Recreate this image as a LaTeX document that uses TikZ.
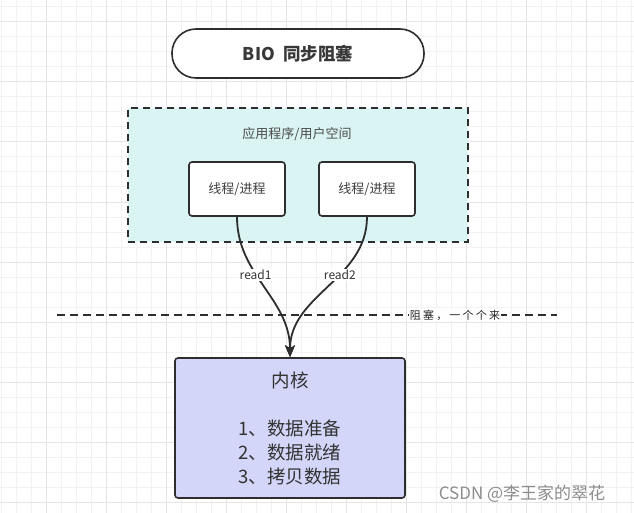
\documentclass[tikz,border=0pt]{standalone}
\usepackage{fontspec}
\setmainfont{Noto Sans CJK SC}
\usetikzlibrary{arrows.meta,positioning}
\colorlet{background}{white}
\colorlet{penColor}{black!82}
\definecolor{userFill}{RGB}{218,243,243}
\definecolor{kernelFill}{RGB}{211,214,248}
\definecolor{gridMinor}{RGB}{242,242,242}
\definecolor{gridMajor}{RGB}{229,229,229}
\tikzset{>={Stealth[length=12pt,width=10pt,inset=3pt]},
  thread/.style={draw=penColor,line width=1.6pt,rounded corners=3pt,fill=white,
    minimum width=96pt,minimum height=54pt,font=\fontsize{13}{15}\selectfont,text=black!75},
  flow/.style={draw=penColor,line width=1.8pt},
  lbl/.style={fill=white,inner sep=1pt,font=\fontsize{12}{14}\selectfont,text=black!80},
  sep/.style={draw=penColor,line width=1.6pt,dash pattern=on 8pt off 5pt}}

\begin{document}
\begin{tikzpicture}[x=1pt,y=-1pt]
  \useasboundingbox[fill=background] (0,0) rectangle (634,513);
  % grid
  \foreach \gx in {1,16,...,631} \draw[gridMinor,line width=1pt] (\gx,0) -- (\gx,513);
  \foreach \gy in {7,22,...,512} \draw[gridMinor,line width=1pt] (0,\gy) -- (634,\gy);
  \foreach \gx in {46,106,...,631} \draw[gridMajor,line width=1pt] (\gx,0) -- (\gx,513);
  \foreach \gy in {22,82,...,512} \draw[gridMajor,line width=1pt] (0,\gy) -- (634,\gy);

  \node[draw=penColor,line width=1.6pt,rounded corners=24pt,fill=white,
    minimum width=252pt,minimum height=49pt,font=\fontsize{17.5}{20}\selectfont\bfseries,
    text=black!78] (title) at (298,53.5) {BIO\ \ 同步阻塞};

  \node[draw=penColor,line width=1.8pt,dash pattern=on 7pt off 5pt,fill=userFill,
    minimum width=340pt,minimum height=134pt] (user) at (298,175) {};
  \node[font=\fontsize{13}{15}\selectfont,text=black!70] (userlbl) at (297,134) {应用程序/用户空间};
  \node[thread] (t1) at (237,189) {线程/进程};
  \node[thread] (t2) at (367,189) {线程/进程};

  \node[draw=penColor,line width=1.6pt,rounded corners=3pt,fill=kernelFill,
    minimum width=230pt,minimum height=140pt,align=center,
    font=\fontsize{18.5}{24}\selectfont,text=black!80] (kern) at (290,428)
    {内核\\[24pt]1、数据准备\\2、数据就绪\\3、拷贝数据};

  \coordinate (dl) at (57,315);
  \coordinate (dr) at (557,315);
  \draw[sep] (dl) -- node[pos=0.796,fill=white,inner sep=1pt,
    font=\fontsize{11}{13}\selectfont\addfontfeature{LetterSpace=20},text=black!85] (block) {阻塞，一个个来} (dr);

  \draw[flow,->] (t1.south) to[out=-90,in=90] node[lbl,pos=0.4] (r1) {read1} (kern.north);
  \draw[flow,->] (t2.south) to[out=-90,in=90] node[lbl,pos=0.4] (r2) {read2} (kern.north);

  \node[font=\fontsize{17}{19}\selectfont,text=black!45] (mark) at (522,494) {CSDN @李王家的翠花};
\end{tikzpicture}
\end{document}
